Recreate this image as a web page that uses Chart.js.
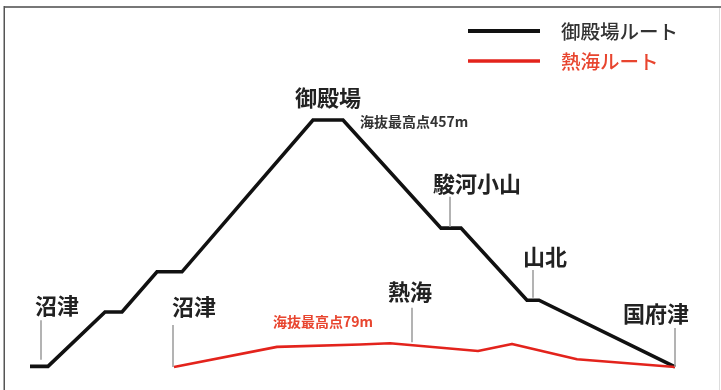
<!DOCTYPE html>
<html><head><meta charset="utf-8">
<script src="https://cdn.jsdelivr.net/npm/chart.js@4"></script>
<style>html,body{margin:0;padding:0;background:#fff}#wrap{width:721px;height:390px}</style>
</head><body><div id="wrap"><canvas id="c" width="721" height="390"></canvas></div>
<script>
// ---- data ----
const seriesNames = ['御殿場ルート', '熱海ルート'];
const gotembaDist = [3.0, 4.8, 10.5, 12.2, 15.7, 18.2, 31.3, 34.3, 44.1, 46.1, 52.7, 53.9, 67.5];
const gotembaElev = [40, 40, 132, 132, 200, 200, 457, 457, 274, 274, 152, 152, 39];
const atamiDist = [17.4, 27.7, 36.0, 39.0, 47.8, 51.2, 57.7, 67.5];
const atamiElev = [39, 73, 77, 79, 66, 78, 52, 39];
const stationNames = ['沼津', '沼津', '御殿場', '駿河小山', '山北', '熱海', '国府津'];
const stationDist = [4.1, 17.3, null, 45.0, 53.3, 41.2, 67.5];
const leaderTopElev = [118, 110, null, 327, 203, 139, 105];
const leaderBottomElev = [51, 39, null, 276, 156, 81, 39];
const summitNotes = ['海抜最高点457m', '海抜最高点79m'];

// ---- annotation layout (data units) ----
const stationLabelAt = [[3.5, 142], [17.2, 141], [29.5, 494], [43.3, 350], [52.3, 225], [38.8, 166], [62.3, 130]];
const summitNoteAt = [[36.0, 454], [27.3, 115]];

const colors = ['#111111', '#e3231c'];
const noteColors = ['#333333', '#e8452f'];
const FONT = '"Noto Sans CJK JP", "Noto Sans", sans-serif';

const datasets = [];
stationNames.forEach((n, i) => {
  if (stationDist[i] == null) return;
  datasets.push({
    data: [{x: stationDist[i], y: leaderTopElev[i]}, {x: stationDist[i], y: leaderBottomElev[i]}],
    borderColor: '#9a9a9a', borderWidth: 1.5, pointRadius: 0, showLine: true, fill: false
  });
});
datasets.push({
  label: seriesNames[1],
  data: atamiDist.map((x, i) => ({x, y: atamiElev[i]})),
  borderColor: colors[1], borderWidth: 2.6, pointRadius: 0, showLine: true, fill: false,
  borderJoinStyle: 'round'
});
datasets.push({
  label: seriesNames[0],
  data: gotembaDist.map((x, i) => ({x, y: gotembaElev[i]})),
  borderColor: colors[0], borderWidth: 3.6, pointRadius: 0, showLine: true, fill: false,
  borderJoinStyle: 'miter'
});

const decor = {
  id: 'decor',
  beforeDraw(chart) {
    const ctx = chart.ctx;
    ctx.save();
    ctx.fillStyle = '#fff';
    ctx.fillRect(0, 0, chart.width, chart.height);
    ctx.fillStyle = '#777';
    ctx.fillRect(4, 6, chart.width - 4, 2);
    ctx.fillStyle = '#555';
    ctx.fillRect(3.5, 6, 1.5, chart.height - 6);
    ctx.fillStyle = '#ddd';
    ctx.fillRect(719, 8, 1, chart.height - 8);
    ctx.restore();
  },
  afterDraw(chart) {
    const ctx = chart.ctx;
    const xs = chart.scales.x, ys = chart.scales.y;
    ctx.save();
    ctx.textBaseline = 'middle';
    ctx.textAlign = 'left';
    // station labels
    ctx.fillStyle = '#222';
    ctx.font = 'bold 22px ' + FONT;
    stationNames.forEach((n, i) => {
      const [dx, dy] = stationLabelAt[i];
      ctx.fillText(n, xs.getPixelForValue(dx), ys.getPixelForValue(dy));
    });
    // summit notes
    ctx.font = 'bold 14px ' + FONT;
    summitNotes.forEach((t, i) => {
      ctx.fillStyle = noteColors[i];
      const [dx, dy] = summitNoteAt[i];
      ctx.fillText(t, xs.getPixelForValue(dx), ys.getPixelForValue(dy));
    });
    // legend
    const legY = [31, 61];
    ctx.font = '500 19.5px ' + FONT;
    seriesNames.forEach((name, i) => {
      ctx.strokeStyle = colors[i];
      ctx.lineWidth = i === 0 ? 4 : 3.5;
      ctx.beginPath();
      ctx.moveTo(468, legY[i]);
      ctx.lineTo(540, legY[i]);
      ctx.stroke();
      ctx.fillStyle = i === 0 ? '#333' : '#e8452f';
      ctx.fillText(name, 561, legY[i] + 1);
    });
    ctx.restore();
  }
};

new Chart(document.getElementById('c'), {
  type: 'scatter',
  data: {datasets},
  options: {
    responsive: false, animation: false, devicePixelRatio: 1,
    layout: {padding: 0},
    plugins: {legend: {display: false}, tooltip: {enabled: false}},
    scales: {
      x: {type: 'linear', min: 0, max: 72.1, display: false},
      y: {type: 'linear', min: 0, max: 660, display: false}
    }
  },
  plugins: [decor]
});
</script></body></html>
